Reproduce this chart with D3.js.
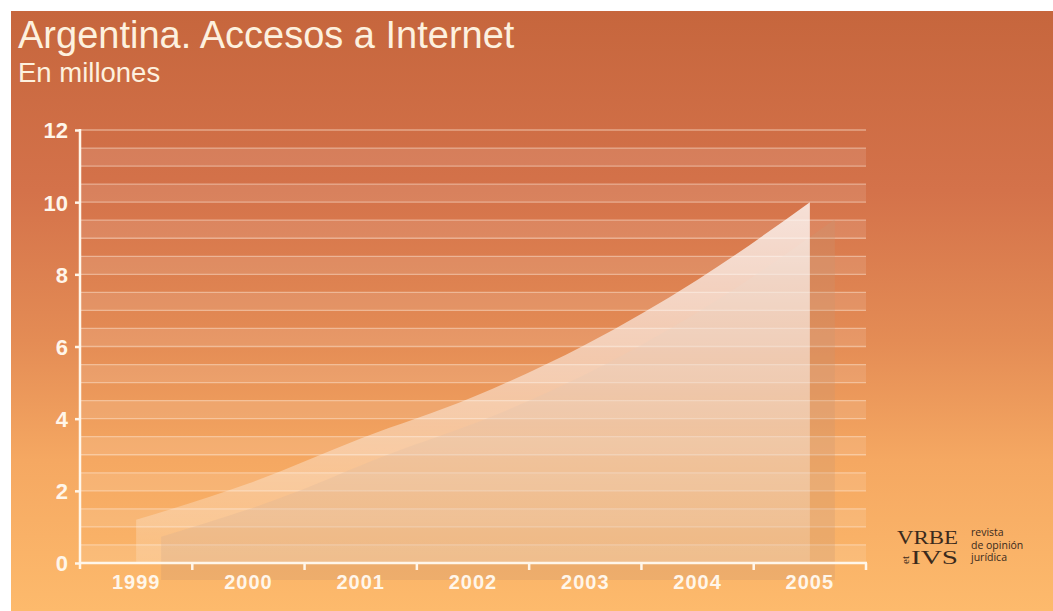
<!DOCTYPE html>
<html><head><meta charset="utf-8">
<script src="https://cdn.jsdelivr.net/npm/d3@7"></script>
<style>
html,body{margin:0;padding:0;background:#fff;}
svg{display:block;}
</style></head>
<body>
<script>
// ---- data ----
const years = ["1999","2000","2001","2002","2003","2004","2005"];
const accesos = [1.2, 2.2, 3.45, 4.6, 6.05, 7.85, 10];
const yTicks = [0, 2, 4, 6, 8, 10, 12];
const title = "Argentina. Accesos a Internet";
const subtitle = "En millones";

const W = 1053, H = 611;
const svg = d3.select("body").append("svg").attr("width", W).attr("height", H);
const defs = svg.append("defs");

// background gradient
const bg = defs.append("linearGradient").attr("id","bg").attr("x1",0).attr("y1",0).attr("x2",0).attr("y2",1);
[[0,"#c6663d"],[0.3,"#d4724a"],[0.55,"#e48c55"],[0.75,"#f5a862"],[1,"#fdba6c"]]
  .forEach(s=>bg.append("stop").attr("offset",s[0]).attr("stop-color",s[1]));
svg.append("rect").attr("x",11).attr("y",11).attr("width",W-11).attr("height",H-11).attr("fill","url(#bg)");

const x = d3.scaleBand().domain(years).range([80, 866]);
const y = d3.scaleLinear().domain([0, 12]).range([563, 130]);
const cx = d => x(d) + x.bandwidth()/2;

// stripes
const g = svg.append("g");
const halfSteps = d3.range(0, 12, 1);
g.selectAll("rect.band").data(halfSteps).join("rect")
  .attr("x", 80).attr("width", 866-80)
  .attr("y", d => y(d+0.5)).attr("height", d => y(d) - y(d+0.5))
  .attr("fill", "#ffffff").attr("opacity", 0.11);
const lines = d3.range(0.5, 12.01, 0.5);
g.selectAll("line.grid").data(lines).join("line")
  .attr("x1", 80).attr("x2", 866)
  .attr("y1", d => y(d)).attr("y2", d => y(d))
  .attr("stroke", "#ffeedd").attr("stroke-opacity", 0.45).attr("stroke-width", 1.3);

// area
const data = years.map((yr,i)=>({yr, v: accesos[i]}));
const area = d3.area().x(d=>cx(d.yr)).y0(y(0)).y1(d=>y(d.v)).curve(d3.curveMonotoneX);

const fg = defs.append("linearGradient").attr("id","fg").attr("gradientUnits","userSpaceOnUse")
  .attr("x1", 0).attr("x2", 0).attr("y1", y(10)).attr("y2", y(0));
fg.append("stop").attr("offset",0).attr("stop-color","#fff").attr("stop-opacity",0.78);
fg.append("stop").attr("offset",1).attr("stop-color","#fff").attr("stop-opacity",0.16);

svg.append("path").datum(data).attr("d", area)
  .attr("transform","translate(25,17)")
  .attr("fill","rgb(200,150,115)").attr("fill-opacity",0.28);
svg.append("path").datum(data).attr("d", area).attr("fill","url(#fg)");

// axes
const axisColor = "#fff6ea";
const yAxis = svg.append("g").attr("transform","translate(80,0)")
  .call(d3.axisLeft(y).tickValues(yTicks).tickSize(5).tickPadding(7).tickFormat(d3.format("d")));
yAxis.select(".domain").remove();
yAxis.selectAll(".tick line").attr("stroke", axisColor).attr("stroke-width", 2.5);
yAxis.selectAll(".tick text").attr("fill", axisColor).attr("font-family","'Liberation Sans', Arial, sans-serif")
  .attr("font-weight","bold").attr("font-size", 22).attr("dy","0.36em");
svg.append("line").attr("x1",80).attr("x2",80).attr("y1",y(12)-1).attr("y2",569)
  .attr("stroke",axisColor).attr("stroke-width",2.5);

const xAxis = svg.append("g").attr("transform","translate(0,563)")
  .call(d3.axisBottom(x).tickSize(0).tickPadding(12));
xAxis.select(".domain").remove();
xAxis.selectAll(".tick text").attr("fill", axisColor).attr("font-family","'Liberation Sans', Arial, sans-serif")
  .attr("font-weight","bold").attr("font-size", 20).attr("letter-spacing", 1);
svg.append("line").attr("x1",79).attr("x2",867).attr("y1",563).attr("y2",563)
  .attr("stroke",axisColor).attr("stroke-width",2.5);
const bounds = years.slice(1).map(d=>x(d)).concat([x.range()[1]]);
svg.selectAll("line.xt").data(bounds).join("line")
  .attr("x1",d=>d).attr("x2",d=>d).attr("y1",563).attr("y2",570)
  .attr("stroke",axisColor).attr("stroke-width",2.5);

// titles
svg.append("text").attr("x",18).attr("y",48).text(title)
  .attr("font-family","'Liberation Sans', Arial, sans-serif").attr("font-size",38).attr("fill","#fdf1df");
svg.append("text").attr("x",18).attr("y",82).text(subtitle)
  .attr("font-family","'Liberation Sans', Arial, sans-serif").attr("font-size",27.5).attr("fill","#fdf1df");

// logo
const logo = svg.append("g").attr("fill","#3a2a1c");
logo.append("text").attr("x",897).attr("y",544).text("VRBE")
  .attr("font-family","'Liberation Serif', 'DejaVu Serif', serif").attr("font-size",18.5)
  .attr("textLength",61).attr("lengthAdjust","spacingAndGlyphs");
logo.append("text").attr("x",911).attr("y",564).text("IVS")
  .attr("font-family","'Liberation Serif', 'DejaVu Serif', serif").attr("font-size",18.5)
  .attr("textLength",47).attr("lengthAdjust","spacingAndGlyphs");
logo.append("text").attr("transform","translate(909,564) rotate(-90)").text("et")
  .attr("font-family","'Liberation Serif', 'DejaVu Serif', serif").attr("font-size",11);
const sm = ["revista","de opinión","jurídica"];
logo.selectAll("text.sm").data(sm).join("text")
  .attr("x",971).attr("y",(d,i)=>536+i*12.5).text(d=>d)
  .attr("font-family","'Open Sans', 'Liberation Sans', sans-serif").attr("font-size",10.5);
</script>
</body></html>
